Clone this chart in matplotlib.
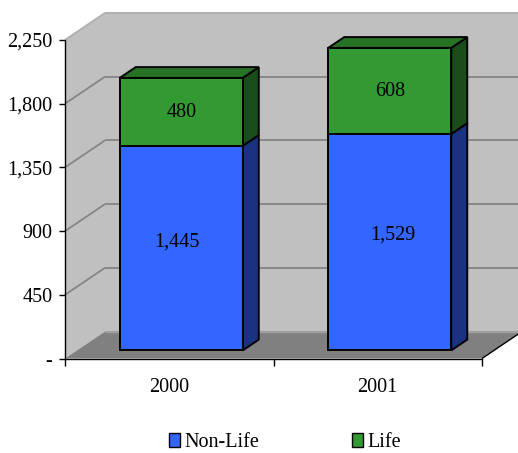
import matplotlib
matplotlib.use("Agg")
import matplotlib.pyplot as plt
from matplotlib.patches import Polygon, Patch

plt.rcParams["font.family"] = ["Liberation Serif", "DejaVu Serif"]

years = ["2000", "2001"]
non_life = [1445, 1529]
life = [480, 608]
value_ticks = [0, 450, 900, 1350, 1800, 2250]
value_tick_labels = ["-", "450", "900", "1,350", "1,800", "2,250"]

BLUE, BLUE_SIDE = "#3366FF", "#1A3380"
GREEN, GREEN_TOP, GREEN_SIDE = "#339933", "#267326", "#1A4D1A"
WALL, FLOOR, GRID, RIM = "#C0C0C0", "#808080", "#858585", "#B0B0B0"
FONT = 14.5

W, H = 518, 453
fig = plt.figure(figsize=(W / 100, H / 100), dpi=100, facecolor="white")
ax = fig.add_axes([65 / W, (H - 358.5) / H, (482 - 65) / W, 318.5 / H])
ax.set_xlim(0, 2)
ax.set_ylim(0, 2250)
ax.patch.set_visible(False)

# Oblique projection: depth runs up and to the right of the front plane.
DX = 40 / 208.5
DY = 27 / (318.5 / 2250)


def proj(x, y, z=0.0):
    return (x + z * DX, y + z * DY)


def face(points, color, edge=None, lw=1.4, zorder=2):
    ax.add_patch(Polygon([proj(*p) for p in points], closed=True, facecolor=color,
                         edgecolor=edge if edge else color, linewidth=lw if edge else 0,
                         clip_on=False, zorder=zorder, joinstyle="miter"))


def line(p, q, color, lw, zorder=2):
    a, b = proj(*p), proj(*q)
    ax.plot([a[0], b[0]], [a[1], b[1]], color=color, lw=lw, clip_on=False,
            zorder=zorder, solid_capstyle="butt")


# Chart box: back wall, left wall, floor
face([(0, 0, 1), (2, 0, 1), (2, 2250, 1), (0, 2250, 1)], WALL)
face([(0, 0, 0), (0, 0, 1), (0, 2250, 1), (0, 2250, 0)], WALL)
face([(0, 0, 0), (2, 0, 0), (2, 0, 1), (0, 0, 1)], FLOOR)
line((0, 2250, 1), (2, 2250, 1), RIM, 1.4)
line((0, 2250, 0), (0, 2250, 1), RIM, 1.4)
line((2, 0, 0), (2, 0, 1), "black", 1.0)

for v in value_ticks[1:-1]:
    line((0, v, 0), (0, v, 1), GRID, 1.3)
    line((0, v, 1), (2, v, 1), GRID, 1.3)
line((0, 0, 1), (2, 0, 1), "#A0A0A0", 1.0)

# Stacked bars
BAR_W = 0.59
Z0, Z1 = 0.30, 0.70
EDGE = "black"
for i in range(len(years)):
    left, right = i + 0.5 - BAR_W / 2, i + 0.5 + BAR_W / 2
    b0, b1 = 0, non_life[i]
    b2 = b1 + life[i]
    for lo, hi, front, side in ((b0, b1, BLUE, BLUE_SIDE), (b1, b2, GREEN, GREEN_SIDE)):
        face([(right, lo, Z0), (right, lo, Z1), (right, hi, Z1), (right, hi, Z0)], side, EDGE, zorder=3)
        face([(left, lo, Z0), (right, lo, Z0), (right, hi, Z0), (left, hi, Z0)], front, EDGE, zorder=4)
    face([(left, b2, Z0), (right, b2, Z0), (right, b2, Z1), (left, b2, Z1)], GREEN_TOP, EDGE, zorder=3)

# Value labels, nudged inside each segment
nudges_non_life = [(-4.5, 6), (3, 7)]
nudges_life = [(0, -1), (0, -1)]
for i in range(len(years)):
    for lo, val, nudge in ((0, non_life[i], nudges_non_life[i]), (non_life[i], life[i], nudges_life[i])):
        ax.annotate(f"{val:,}", proj(i + 0.5, lo + val / 2, Z0), xytext=nudge,
                    textcoords="offset pixels", ha="center", va="center",
                    fontsize=FONT, color="black", zorder=6, annotation_clip=False)

# Axes
for s in ("top", "right"):
    ax.spines[s].set_visible(False)
for s in ("left", "bottom"):
    ax.spines[s].set_linewidth(1.0)
    ax.spines[s].set_zorder(5)
ax.set_yticks(value_ticks, value_tick_labels, fontsize=FONT)
ax.tick_params(axis="y", length=4, width=1, pad=5)
ax.set_xticks([0, 1, 2], ["", "", ""])
ax.tick_params(axis="x", which="major", length=5, width=1)
ax.set_xticks([0.5, 1.5], years, minor=True, fontsize=FONT)
ax.tick_params(axis="x", which="minor", length=0, pad=14)

# Legend
handles = [Patch(facecolor=BLUE, edgecolor="black", linewidth=1, label="Non-Life"),
           Patch(facecolor=GREEN, edgecolor="black", linewidth=1, label="Life")]
fig.legend(handles=handles, ncol=2, loc="center", bbox_to_anchor=(285 / W, 1 - 442.5 / H),
           frameon=False, fontsize=FONT, handlelength=0.55, handleheight=0.65,
           handletextpad=0.2, columnspacing=4.6, borderpad=0, borderaxespad=0)

fig.savefig("out.png", dpi=100)
